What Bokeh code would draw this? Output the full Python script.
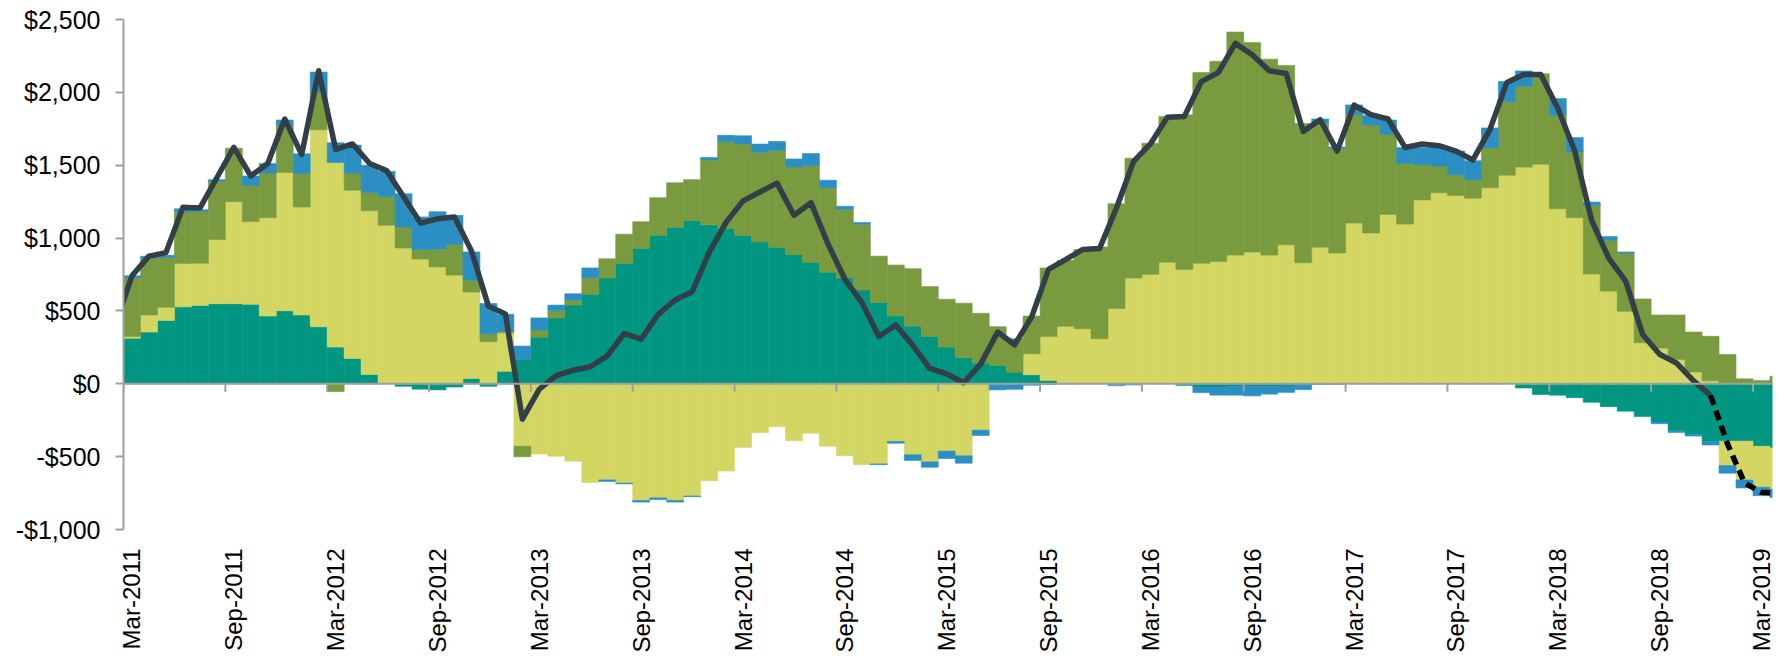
import numpy as np
import pandas as pd
from bokeh.plotting import figure
from bokeh.models import Range1d, FixedTicker, Span
from bokeh.embed import file_html
from bokeh.resources import INLINE

# Months: Mar-2011 ... Apr-2019 (the last one is only partly visible)
months = list(pd.date_range("2011-03-01", periods=98, freq="MS").strftime("%b-%Y"))

tick_labels = ["Mar-2011", "Sep-2011", "Mar-2012", "Sep-2012", "Mar-2013", "Sep-2013",
               "Mar-2014", "Sep-2014", "Mar-2015", "Sep-2015", "Mar-2016", "Sep-2016",
               "Mar-2017", "Sep-2017", "Mar-2018", "Sep-2018", "Mar-2019"]

teal = [313, 355, 435, 528, 538, 550, 550, 545, 465, 501, 472, 391, 252, 174, 64, 0,
        -17, -37, -42, -22, 37, -17, 86, 166, 320, 452, 540, 614, 726, 827, 929, 1020,
        1074, 1120, 1091, 1066, 1020, 973, 937, 888, 834, 766, 726, 643, 558, 465, 394, 325,
        252, 179, 142, 125, 80, 62, 23, 3, 0, 0, -5, 0, 0, 0, 0, -22,
        -22, -17, -17, -17, -15, -10, -5, -5, 0, 0, 0, 0, 0, 0, 0, 0,
        0, 0, -29, -73, -78, -95, -127, -157, -188, -225, -262, -323, -347, -396, -394, -394,
        -429, -440]
yellow = [12, 117, 90, 298, 289, 440, 700, 568, 675, 949, 741, 1352, 1267, 1155, 1123, 1088,
          932, 856, 802, 746, 592, 289, 264, -428, -482, -497, -531, -677, -660, -682, -800, -783,
          -800, -770, -665, -599, -438, -335, -294, -391, -340, -428, -494, -555, -550, -396, -487, -536,
          -462, -494, -318, 0, 0, 144, 302, 391, 378, 309, 516, 726, 751, 834,
          785, 827, 839, 883, 905, 883, 954, 831, 937, 898, 1103, 1035, 1162, 1096, 1262, 1311,
          1292, 1274, 1345, 1431, 1487, 1507, 1201, 1140, 753, 636, 497, 281, 245, 166, 81, 20,
          -167, -266, -281, -285]
olive = [404, 391, 342, 355, 355, 399, 367, 247, 306, 323, 230, 257, -54, 117, 125, 196,
         144, 64, 122, 210, 83, 54, 12, -73, 49, 49, 34, 115, 132, 200, 183, 257,
         306, 281, 445, 597, 626, 616, 665, 599, 665, 580, 472, 452, 318, 350, 396, 342,
         328, 374, 342, 267, 230, 259, 470, 453, 543, 630, 719, 822, 900, 1000,
         1061, 1309, 1375, 1531, 1438, 1345, 1230, 956, 850, 720, 743, 741, 553, 416, 242, 183,
         142, 127, 276, 504, 555, 621, 641, 450, 470, 350, 401, 301, 227, 306, 274, 306,
         201, 34, 23, 52]
blue = [12, 12, 15, 20, 12, 12, 0, 66, 66, 37, 135, 139, 135, 193, 188, 174,
        228, 225, 257, 200, 193, 208, 115, 93, 83, 39, 44, 66, -10, -5, -12, -12,
        -12, -5, 17, 42, 56, 56, 61, 56, 81, 51, 20, 12, -5, -12, -39, -37,
        -51, -51, -37, -42, -38, -10, -5, 0, 0, 0, -8, -8, 0, 0,
        -12, -39, -56, -61, -66, -54, -44, -30, 30, 7, 68, 66, 95, 110, 117, 127,
        164, 130, 135, 139, 105, 0, 115, 100, 24, 24, 7, 0, -12, -12, -12, -24,
        -53, -55, -58, -55]

# Net line: Feb-2011 (clipped) .. Apr-2019 (clipped)
net_line = [400, 741, 876, 900, 1211, 1206, 1414, 1622, 1426, 1512, 1817, 1573, 2148, 1609, 1646, 1512,
            1463, 1284, 1103, 1132, 1145, 912, 533, 479, -242, -37, 56, 93, 117, 191, 345, 306,
            477, 575, 631, 900, 1108, 1255, 1316, 1377, 1157, 1243, 961, 717, 558, 325, 404, 264,
            105, 68, 7, 135, 355, 268, 458, 785, 852, 921, 928, 1206, 1524, 1646, 1830,
            1835, 2074, 2135, 2336, 2258, 2148, 2130, 1732, 1812, 1597, 1912, 1847, 1817, 1622, 1646,
            1634, 1597, 1536, 1744, 2067, 2123, 2123, 1891, 1597, 1120, 863, 704, 338, 203, 142,
            20, -80, -412, -680, -745, -750]
dash_from = 93  # forecast (dashed) part starts at Dec-2018

y_ticks = [-1000, -500, 0, 500, 1000, 1500, 2000, 2500]
y_labels = ["-$1,000", "-$500", "$0", "$500", "$1,000", "$1,500", "$2,000", "$2,500"]

colors = ["#009681", "#D3D662", "#7A9A3F", "#2B8FC4"]
FONT = "Liberation Sans"

n = len(months)
xi = np.arange(n, dtype=float)

W, H = 1780, 658
top_b, bot_b, left_b, right_b = 19, 129, 123, 8
p = figure(width=W, height=H, output_backend="svg", toolbar_location=None,
           x_range=Range1d(0, 97.15), y_range=Range1d(-1000, 2500),
           min_border_left=left_b, min_border_right=right_b,
           min_border_top=top_b, min_border_bottom=bot_b)
p.outline_line_color = None
p.xgrid.grid_line_color = None
p.ygrid.grid_line_color = None
p.background_fill_color = "white"
p.border_fill_color = "white"

pos_base = np.zeros(n)
neg_base = np.zeros(n)
for s, c in zip([teal, yellow, olive, blue], colors):
    s = np.asarray(s, dtype=float)
    bottom = np.where(s >= 0, pos_base, neg_base)
    top = bottom + s
    pos_base = np.where(s >= 0, top, pos_base)
    neg_base = np.where(s < 0, top, neg_base)
    mask = s != 0
    p.quad(left=xi[mask], right=xi[mask] + 1, bottom=bottom[mask], top=top[mask],
           fill_color=c, line_color=c, line_width=0.6)

# zero axis line with ticks every 6 months
p.add_layout(Span(location=0, dimension="width", line_color="#A0A0A0", line_width=2))
frame_h = H - top_b - bot_b
tick_len = 8 * 3500 / frame_h
tick_idx = np.array([months.index(t) for t in tick_labels], dtype=float)
p.segment(x0=tick_idx, y0=np.zeros_like(tick_idx), x1=tick_idx, y1=-tick_len * np.ones_like(tick_idx),
          line_color="#A0A0A0", line_width=2)

# net line
lx = np.concatenate([[-0.5], xi + 0.5])
ly = np.asarray(net_line, dtype=float)
k = dash_from + 1
p.line(lx[:k + 1], ly[:k + 1], line_color="#333F48", line_width=5.5, line_join="round")
p.line(lx[k:], ly[k:], line_color="black", line_width=5.5, line_dash="10 6")

# y axis
ya = p.yaxis[0]
ya.ticker = FixedTicker(ticks=y_ticks)
ya.major_label_overrides = {t: l for t, l in zip(y_ticks, y_labels)}
ya.axis_line_color = "#A0A0A0"
ya.axis_line_width = 2
ya.major_tick_line_color = "#A0A0A0"
ya.major_tick_line_width = 2
ya.major_tick_out = 8
ya.major_tick_in = 0
ya.minor_tick_line_color = None
ya.major_label_standoff = 15
ya.major_label_text_font = FONT
ya.major_label_text_font_size = "25px"
ya.major_label_text_color = "black"

# x axis (labels only)
xa = p.xaxis[0]
centers = list(tick_idx + 0.5)
xa.ticker = FixedTicker(ticks=centers)
xa.major_label_overrides = {c: l for c, l in zip(centers, tick_labels)}
xa.axis_line_color = None
xa.major_tick_line_color = None
xa.minor_tick_line_color = None
xa.major_tick_out = 0
xa.major_tick_in = 0
xa.major_label_orientation = np.pi / 2
xa.major_label_standoff = 19
xa.major_label_text_font = FONT
xa.major_label_text_font_size = "24px"
xa.major_label_text_color = "black"

open("out.html", "w").write(file_html(p, INLINE))
